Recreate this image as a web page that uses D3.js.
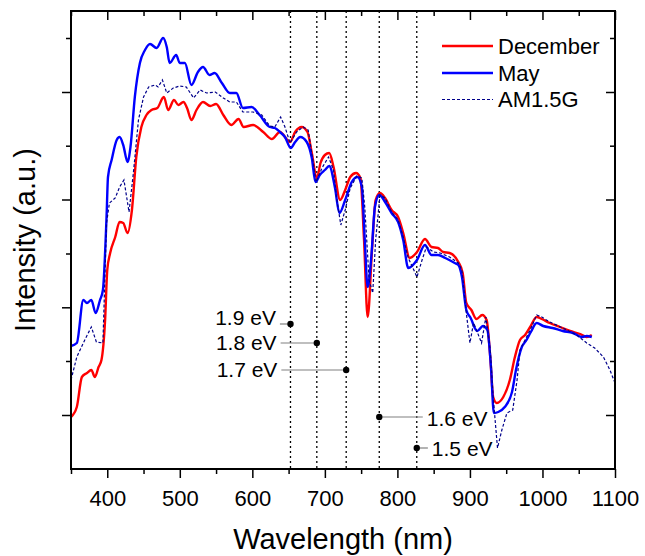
<!DOCTYPE html>
<html><head><meta charset="utf-8">
<script src="https://cdn.jsdelivr.net/npm/d3@7"></script>
<style>body{margin:0;background:#fff}svg{display:block}text{font-family:"Liberation Sans",Arial,sans-serif;fill:#000}</style>
</head><body>
<script>
// wavelength (nm) / intensity (a.u.)
const december = [[350,52],[358,62],[365,92],[372,96],[378,99],[383,92],[388,102],[392,109],[397,149],[400,199],[404,216],[411,232],[417,247],[422,246],[428,236],[434,259],[440,312],[447,342],[454,354],[461,359],[469,361],[478,372],[484,359],[492,369],[498,364],[505,367],[510,361],[516,349],[523,359],[532,367],[542,363],[550,365],[560,354],[571,344],[581,350],[588,342],[601,344],[615,337],[627,330],[638,337],[652,327],[659,337],[668,342],[676,337],[682,316],[689,291],[694,306],[700,314],[706,316],[712,302],[721,269],[728,279],[735,292],[743,296],[749,291],[754,229],[759,152],[765,219],[770,269],[776,276],[783,271],[792,259],[801,252],[808,236],[817,211],[827,217],[838,230],[847,222],[856,221],[863,217],[872,216],[884,207],[890,196],[895,166],[902,159],[909,150],[917,154],[923,149],[928,112],[932,72],[937,66],[946,72],[955,89],[962,112],[969,129],[976,134],[983,142],[992,152],[999,150],[1010,146],[1024,142],[1038,138],[1052,135],[1061,132],[1068,134]];
const may = [[350,123],[358,126],[367,169],[372,166],[378,169],[384,156],[390,169],[394,179],[399,252],[401,292],[406,309],[413,329],[417,332],[422,324],[428,307],[432,322],[438,372],[445,406],[452,419],[459,425],[468,421],[477,431],[482,422],[486,406],[495,414],[500,406],[507,406],[516,384],[525,397],[532,402],[541,394],[548,396],[558,386],[569,376],[578,376],[587,361],[599,362],[610,354],[624,342],[631,341],[638,337],[645,332],[653,321],[659,327],[666,332],[675,327],[682,311],[687,287],[693,294],[700,299],[706,303],[714,281],[720,256],[728,269],[737,287],[745,292],[751,282],[755,229],[759,182],[764,212],[769,262],[775,274],[783,267],[792,256],[801,247],[808,229],[815,201],[827,209],[838,224],[847,214],[856,214],[866,211],[879,206],[884,204],[889,192],[895,159],[901,151],[910,138],[918,143],[924,139],[929,102],[933,56],[939,57],[948,62],[958,77],[964,101],[971,121],[978,129],[984,137],[992,146],[1001,143],[1014,141],[1028,138],[1042,136],[1054,132],[1061,133],[1068,132]];
const am15g = [[350,89],[358,112],[369,129],[378,142],[385,127],[394,126],[399,246],[403,266],[411,271],[417,282],[423,289],[430,257],[436,296],[443,349],[450,372],[457,382],[466,384],[470,382],[476,389],[482,376],[491,381],[500,383],[509,382],[519,371],[528,379],[537,376],[549,377],[560,371],[569,367],[578,367],[587,357],[601,357],[613,354],[624,343],[631,342],[639,352],[645,342],[652,326],[661,337],[670,342],[677,339],[684,306],[688,287],[696,301],[705,312],[712,299],[716,272],[722,244],[728,259],[735,281],[744,293],[751,291],[755,262],[761,189],[766,176],[770,229],[776,274],[783,271],[792,257],[801,249],[808,232],[815,211],[827,192],[834,209],[840,222],[850,217],[859,216],[872,212],[884,206],[889,199],[895,156],[900,126],[905,146],[909,139],[916,126],[922,152],[928,119],[932,72],[938,21],[944,39],[951,56],[959,59],[965,89],[969,119],[976,129],[983,139],[992,154],[999,152],[1010,147],[1028,141],[1047,134],[1061,126],[1072,121],[1084,112],[1093,99],[1100,86]];

const xMajorTicks = [400,500,600,700,800,900,1000,1100];
const xMinorTicks = [350,450,550,650,750,850,950,1050];
const yMajorTicks = [54,161.7,269.5,377];
const yMinorTicks = [108,215.5,323.3,431];

const seriesNames = ["December","May","AM1.5G"];

// band-gap markers
const gapLabels = ["1.9 eV","1.8 eV","1.7 eV","1.6 eV","1.5 eV"];
const gapWavelengths = [652.6,688.9,729.4,775,826.7];
const gapDotIntensity = [145,126,99,52,21];
const gapLabelIntensity = [152,127,100,51,21];
const gapLabelSide = ["left","left","left","right","right"];
const gapLineEnd = [638,639,640,835,842];

const W=645,H=556;
const m={l:71,r:615,t:11,b:469};
const x=d3.scaleLinear().domain([350,1100]).range([m.l,m.r]);
const y=d3.scaleLinear().domain([0,458]).range([m.b,m.t]);

const svg=d3.select("body").append("svg").attr("width",W).attr("height",H);

// dotted verticals
svg.append("g").selectAll("line").data(gapWavelengths).join("line")
  .attr("x1",d=>x(d)).attr("x2",d=>x(d)).attr("y1",m.t).attr("y2",m.b)
  .attr("stroke","#000").attr("stroke-width",1.3).attr("stroke-dasharray","2,3");

// connectors
const ann=svg.append("g");
gapLabels.forEach((lab,i)=>{
  const cx=x(gapWavelengths[i]), cy=y(gapDotIntensity[i]);
  ann.append("line").attr("x1",x(gapLineEnd[i])).attr("x2",cx).attr("y1",cy).attr("y2",cy)
    .attr("stroke","#808080").attr("stroke-width",1.2);
  ann.append("circle").attr("cx",cx).attr("cy",cy).attr("r",3.2).attr("fill","#000");
  const left=gapLabelSide[i]==="left";
  ann.append("text").attr("x",x(gapLineEnd[i])+(left?-4:4)).attr("y",y(gapLabelIntensity[i])+7.5)
    .attr("text-anchor",left?"end":"start").attr("font-size",21).text(lab);
});

const lineC=d3.line().x(d=>x(d[0])).y(d=>y(d[1])).curve(d3.curveMonotoneX);
const lineL=d3.line().x(d=>x(d[0])).y(d=>y(d[1]));
const plot=svg.append("g");
plot.append("path").datum(december).attr("d",lineC).attr("fill","none").attr("stroke","#ff0000").attr("stroke-width",2.4).attr("stroke-linejoin","round");
plot.append("path").datum(may).attr("d",lineC).attr("fill","none").attr("stroke","#0000ff").attr("stroke-width",2.4).attr("stroke-linejoin","round");
plot.append("path").datum(am15g).attr("d",lineL).attr("fill","none").attr("stroke","#00008b").attr("stroke-width",1.2).attr("stroke-dasharray","3,2");

// axes
const tickSty=g=>{g.selectAll("path.domain").remove();g.selectAll("line").attr("stroke","#000").attr("stroke-width",1.5);};
svg.append("g").attr("transform",`translate(0,${m.b})`).call(d3.axisBottom(x).tickValues(xMajorTicks).tickSize(9).tickFormat(d3.format("d"))).call(tickSty)
  .call(g=>g.selectAll("text").attr("font-size",22).attr("dy",0).attr("y",37).attr("font-family","Liberation Sans, Arial, sans-serif"));
svg.append("g").attr("transform",`translate(0,${m.b})`).call(d3.axisBottom(x).tickValues(xMinorTicks).tickSize(5).tickFormat("")).call(tickSty);
svg.append("g").attr("transform",`translate(0,${m.t})`).call(d3.axisBottom(x).tickValues(xMajorTicks).tickSize(9).tickFormat("")).call(tickSty);
svg.append("g").attr("transform",`translate(0,${m.t})`).call(d3.axisBottom(x).tickValues(xMinorTicks).tickSize(5).tickFormat("")).call(tickSty);
svg.append("g").attr("transform",`translate(${m.l},0)`).call(d3.axisLeft(y).tickValues(yMajorTicks).tickSize(9).tickFormat("")).call(tickSty);
svg.append("g").attr("transform",`translate(${m.l},0)`).call(d3.axisLeft(y).tickValues(yMinorTicks).tickSize(5).tickFormat("")).call(tickSty);
svg.append("g").attr("transform",`translate(${m.r},0)`).call(d3.axisLeft(y).tickValues(yMajorTicks).tickSize(9).tickFormat("")).call(tickSty);
svg.append("g").attr("transform",`translate(${m.r},0)`).call(d3.axisLeft(y).tickValues(yMinorTicks).tickSize(5).tickFormat("")).call(tickSty);

svg.append("rect").attr("x",m.l).attr("y",m.t).attr("width",m.r-m.l).attr("height",m.b-m.t)
  .attr("fill","none").attr("stroke","#000").attr("stroke-width",2);

// titles
svg.append("text").attr("x",(m.l+m.r)/2).attr("y",549).attr("text-anchor","middle").attr("font-size",29).text("Wavelength (nm)");
svg.append("text").attr("transform",`translate(35,${(m.t+m.b)/2}) rotate(-90)`).attr("text-anchor","middle").attr("font-size",29).text("Intensity (a.u.)");

// legend
const leg=svg.append("g");
const legColors=["#ff0000","#0000ff","#00008b"];
const legY=[46,73,99.5];
seriesNames.forEach((n,i)=>{
  const l=leg.append("line").attr("x1",442).attr("x2",493).attr("y1",legY[i]).attr("y2",legY[i]).attr("stroke",legColors[i]);
  if(i<2) l.attr("stroke-width",2.4); else l.attr("stroke-width",1.2).attr("stroke-dasharray","3,2");
  leg.append("text").attr("x",498).attr("y",legY[i]+7.8).attr("font-size",22).text(n);
});
</script>
</body></html>
